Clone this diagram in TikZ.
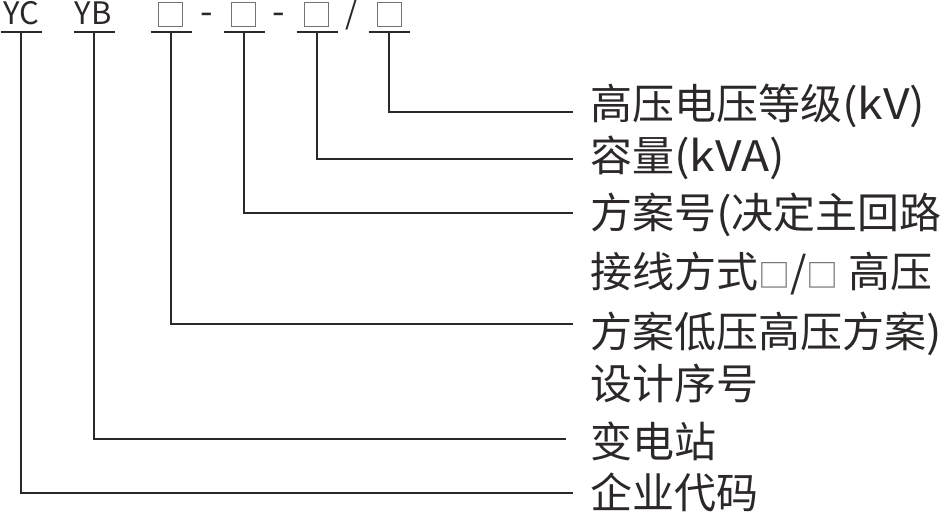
\documentclass[tikz,border=0pt]{standalone}
\usepackage{fontspec}
\setmainfont{Noto Sans CJK SC}
\newfontfamily\widefont[FakeStretch=1.1]{Noto Sans CJK SC}
\usetikzlibrary{calc}
\definecolor{ink}{RGB}{45,40,40}
\newcommand{\blank}[1]{{\fontsize{#1}{#1}\selectfont\color{black!55}□}}

\begin{document}
\begin{tikzpicture}
      [
        x=1pt, y=-1pt,
        code/.style={anchor=base, text=ink, inner sep=0pt, text height=22pt, text depth=0pt, font=\fontsize{31}{31}\selectfont},
        slot/.style={draw=black!55, line width=0.9pt, minimum size=24pt, inner sep=0pt},
        desc/.style={anchor=base west, text=ink, inner sep=0pt, font=\fontsize{42}{42}\selectfont},
        bar/.style={draw=ink, line width=1.8pt}
      ]
      \useasboundingbox (0,0) rectangle (945,513);
      % model code
      \node [code] (yc) at (21,25) {YC};
      \node [code] (yb) at (93,25) {YB};
      \node [slot] (s1) at (170,14) {};
      \node [code] (d1) at (207,25) {\fontsize{36}{36}\selectfont -};
      \node [slot] (s2) at (243,14) {};
      \node [code] (d2) at (279,25) {\fontsize{36}{36}\selectfont -};
      \node [slot] (s3) at (316,14) {};
      \node [code] (sl) at (352,25) {/};
      \node [slot] (s4) at (389,14) {};
      % underlines
      \foreach \n/\x in {yc/21,yb/94,s1/171,s2/244,s3/317,s4/389} {
          \coordinate (u-\n) at (\x,32);
          \draw [bar] (\x-20.5,32) -- (\x+20.5,32);
      }
      % labels
      \node [desc] (kv) at (590,120) {高压电压等级{\widefont(kV)}};
      \node [desc] (kva) at (590,172) {容量{\widefont(kVA)}};
      \node [desc] (plan) at (590,229) {方案号{\widefont(}决定主回路};
      \node [desc] (wire) at (590,287) {接线方式\blank{32}/\blank{32} 高压};
      \node [desc] (low) at (590,347) {方案低压高压方案{\widefont)}};
      \node [desc] (seq) at (590,399) {设计序号};
      \node [desc] (sub) at (590,457) {变电站};
      \node [desc] (co) at (590,508) {企业代码};
      % line ends
      \coordinate (e-kv) at (573,112);
      \coordinate (e-kva) at (573,159);
      \coordinate (e-plan) at (573,213);
      \coordinate (e-low) at (573,324);
      \coordinate (e-sub) at (566,439);
      \coordinate (e-co) at (573,493);
      % edges
      \foreach \u/\e in {s4/kv,s3/kva,s2/plan,s1/low,yb/sub,yc/co} {
          \draw [bar] (u-\u) |- (e-\e);
      }
    \end{tikzpicture}
\end{document}
